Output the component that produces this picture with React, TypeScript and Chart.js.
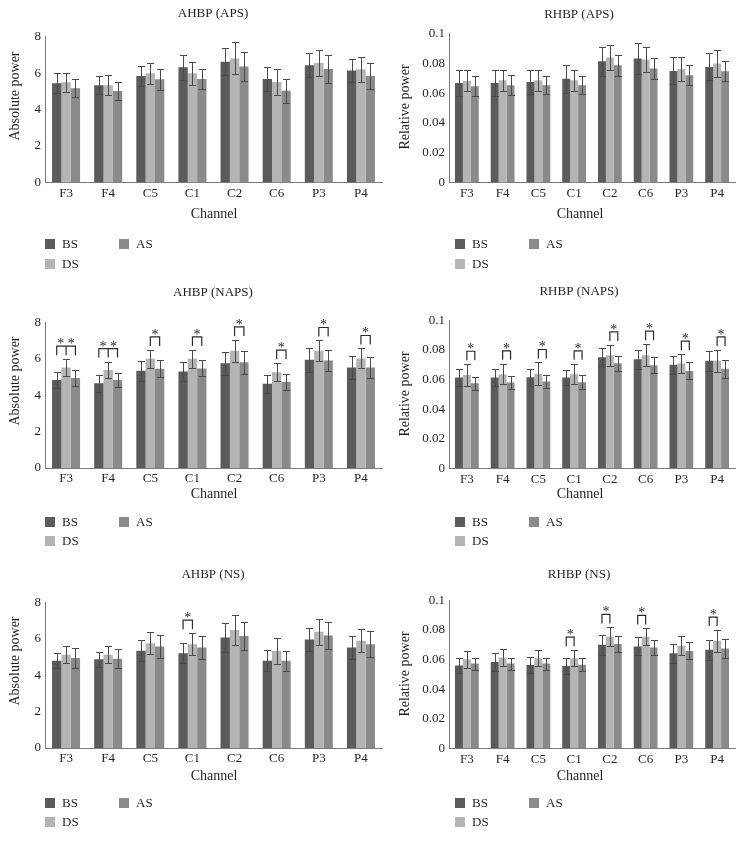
import React, { useEffect, useRef } from 'react';
import { Chart, registerables } from 'chart.js';

Chart.register(...registerables);

const FONT_FAMILY = '"Liberation Serif", "Times New Roman", Times, serif';
const TEXT_COLOR = '#231f20';
const AXIS_COLOR = '#7a7a7a';
const ERR_COLOR = '#4a4a4a';
const X_AXIS_H = 22;

const channels = ['F3', 'F4', 'C5', 'C1', 'C2', 'C6', 'P3', 'P4'];
const seriesNames = ['BS', 'DS', 'AS'];
const seriesColors = ['#5b5b5b', '#b4b4b4', '#8a8a8a'];

// AHBP (APS)
const ahbpApsBS = [5.44, 5.33, 5.84, 6.32, 6.63, 5.68, 6.43, 6.14];
const ahbpApsDS = [5.5, 5.33, 5.99, 5.99, 6.81, 5.52, 6.56, 6.21];
const ahbpApsAS = [5.17, 5.02, 5.66, 5.68, 6.36, 5.04, 6.23, 5.84];
const ahbpApsBSErr = [0.55, 0.5, 0.55, 0.68, 0.73, 0.64, 0.66, 0.62];
const ahbpApsDSErr = [0.53, 0.55, 0.59, 0.62, 0.88, 0.72, 0.69, 0.69];
const ahbpApsASErr = [0.5, 0.5, 0.57, 0.57, 0.8, 0.66, 0.75, 0.7];

// RHBP (APS)
const rhbpApsBS = [0.0668, 0.0668, 0.0675, 0.0697, 0.0814, 0.0832, 0.0749, 0.0776];
const rhbpApsDS = [0.0682, 0.0686, 0.0686, 0.0686, 0.0839, 0.0825, 0.0762, 0.0798];
const rhbpApsAS = [0.0646, 0.0652, 0.0652, 0.0652, 0.0787, 0.0765, 0.072, 0.0747];
const rhbpApsBSErr = [0.0085, 0.0085, 0.0083, 0.0094, 0.0096, 0.0105, 0.009, 0.009];
const rhbpApsDSErr = [0.0071, 0.0072, 0.0072, 0.0072, 0.0083, 0.0085, 0.0081, 0.009];
const rhbpApsASErr = [0.0067, 0.0068, 0.006, 0.006, 0.0072, 0.0071, 0.0067, 0.0069];

// AHBP (NAPS)
const ahbpNapsBS = [4.85, 4.67, 5.35, 5.31, 5.77, 4.64, 5.96, 5.53];
const ahbpNapsDS = [5.53, 5.4, 6.01, 6.01, 6.45, 5.27, 6.45, 6.03];
const ahbpNapsAS = [4.95, 4.85, 5.46, 5.48, 5.82, 4.73, 5.92, 5.53];
const ahbpNapsBSErr = [0.46, 0.46, 0.55, 0.5, 0.64, 0.5, 0.65, 0.62];
const ahbpNapsDSErr = [0.46, 0.46, 0.49, 0.49, 0.6, 0.5, 0.57, 0.55];
const ahbpNapsASErr = [0.46, 0.4, 0.46, 0.44, 0.63, 0.45, 0.59, 0.59];

// RHBP (NAPS)
const rhbpNapsBS = [0.0614, 0.0614, 0.0616, 0.0614, 0.0752, 0.0738, 0.07, 0.0727];
const rhbpNapsDS = [0.0632, 0.0637, 0.0639, 0.0637, 0.0765, 0.0765, 0.0709, 0.0727];
const rhbpNapsAS = [0.0576, 0.058, 0.0587, 0.0582, 0.0711, 0.0698, 0.0659, 0.0673];
const rhbpNapsBSErr = [0.0056, 0.0056, 0.0057, 0.0052, 0.0061, 0.0063, 0.0063, 0.0068];
const rhbpNapsDSErr = [0.0072, 0.007, 0.0077, 0.007, 0.007, 0.0075, 0.0063, 0.0074];
const rhbpNapsASErr = [0.0045, 0.0045, 0.0045, 0.0048, 0.0052, 0.0054, 0.0057, 0.0061];

// AHBP (NS)
const ahbpNsBS = [4.8, 4.89, 5.35, 5.22, 6.08, 4.81, 5.98, 5.53];
const ahbpNsDS = [5.13, 5.13, 5.77, 5.71, 6.5, 5.35, 6.4, 5.9];
const ahbpNsAS = [4.95, 4.91, 5.59, 5.53, 6.17, 4.81, 6.2, 5.71];
const ahbpNsBSErr = [0.42, 0.42, 0.57, 0.55, 0.79, 0.58, 0.64, 0.64];
const ahbpNsDSErr = [0.46, 0.46, 0.6, 0.61, 0.83, 0.71, 0.73, 0.64];
const ahbpNsASErr = [0.54, 0.53, 0.64, 0.64, 0.79, 0.55, 0.73, 0.72];

// RHBP (NS)
const rhbpNsBS = [0.0561, 0.0584, 0.0564, 0.0557, 0.07, 0.0689, 0.0643, 0.0666];
const rhbpNsDS = [0.0602, 0.0614, 0.0609, 0.0609, 0.0755, 0.0755, 0.0693, 0.0727];
const rhbpNsAS = [0.0573, 0.0573, 0.0573, 0.0566, 0.0705, 0.0682, 0.0659, 0.0675];
const rhbpNsBSErr = [0.0053, 0.0064, 0.0054, 0.0052, 0.0068, 0.0061, 0.0066, 0.0068];
const rhbpNsDSErr = [0.0057, 0.0056, 0.0055, 0.0055, 0.0063, 0.0056, 0.0064, 0.0073];
const rhbpNsASErr = [0.0041, 0.0041, 0.0041, 0.0043, 0.0052, 0.005, 0.0057, 0.0064];

// significance brackets: category index, bars joined (0=BS,1=DS,2=AS), label
const ahbpApsSig: Sig[] = [];
const rhbpApsSig: Sig[] = [];
const ahbpNapsSig: Sig[] = [
  { cat: 0, bars: [0, 1, 2], label: '* *' },
  { cat: 1, bars: [0, 1, 2], label: '* *' },
  { cat: 2, bars: [1, 2], label: '*' },
  { cat: 3, bars: [1, 2], label: '*' },
  { cat: 4, bars: [1, 2], label: '*' },
  { cat: 5, bars: [1, 2], label: '*' },
  { cat: 6, bars: [1, 2], label: '*' },
  { cat: 7, bars: [1, 2], label: '*' },
];
const rhbpNapsSig: Sig[] = [
  { cat: 0, bars: [1, 2], label: '*' },
  { cat: 1, bars: [1, 2], label: '*' },
  { cat: 2, bars: [1, 2], label: '*' },
  { cat: 3, bars: [1, 2], label: '*' },
  { cat: 4, bars: [1, 2], label: '*' },
  { cat: 5, bars: [1, 2], label: '*' },
  { cat: 6, bars: [1, 2], label: '*' },
  { cat: 7, bars: [1, 2], label: '*' },
];
const ahbpNsSig: Sig[] = [{ cat: 3, bars: [0, 1], label: '*' }];
const rhbpNsSig: Sig[] = [
  { cat: 3, bars: [0, 1], label: '*' },
  { cat: 4, bars: [0, 1], label: '*' },
  { cat: 5, bars: [0, 1], label: '*' },
  { cat: 7, bars: [0, 1], label: '*' },
];

type Sig = { cat: number; bars: number[]; label: string };
type Box = { x: number; y: number; w: number; h: number };
type Area = { left: number; right: number; top: number; bottom: number };
type TextPos = {
  titleX: number; titleY: number; xTitleX: number; xTitleY: number;
  yTitleX: number; yTitleY: number;
  legX: number; legX2: number; legY1: number; legY2: number;
};
type PanelProps = {
  title: string; yTitle: string;
  values: number[][]; errors: number[][]; sig: Sig[];
  yMax: number; yStep: number;
  box: Box; area: Area; text: TextPos;
};

const fmt = (v: number) => String(Math.round(Number(v) * 1000) / 1000);

function Panel(p: PanelProps) {
  const ref = useRef<HTMLCanvasElement>(null);
  useEffect(() => {
    const canvas = ref.current!;
    const { box, area, text } = p;
    const font = (size: number) => `${size}px ${FONT_FAMILY}`;
    const extras = {
      id: 'panelExtras',
      afterDatasetsDraw(chart: any) {
        const ctx = chart.ctx as CanvasRenderingContext2D;
        const ys = chart.scales.y;
        ctx.save();
        // error bars
        ctx.strokeStyle = ERR_COLOR;
        ctx.lineWidth = 1;
        chart.data.datasets.forEach((ds: any, di: number) => {
          const meta = chart.getDatasetMeta(di);
          meta.data.forEach((bar: any, i: number) => {
            const v = ds.data[i];
            const e = p.errors[di][i];
            const yt = Math.round(ys.getPixelForValue(v + e)) + 0.5;
            const yb = Math.round(ys.getPixelForValue(v - e)) + 0.5;
            const x = Math.round(bar.x) + 0.5;
            ctx.beginPath();
            ctx.moveTo(x, yt); ctx.lineTo(x, yb);
            ctx.moveTo(x - 3.5, yt); ctx.lineTo(x + 3.5, yt);
            ctx.moveTo(x - 3.5, yb); ctx.lineTo(x + 3.5, yb);
            ctx.stroke();
          });
        });
        // significance brackets
        ctx.strokeStyle = '#2b2b2b';
        ctx.lineWidth = 1.2;
        ctx.fillStyle = TEXT_COLOR;
        ctx.font = font(14);
        ctx.textAlign = 'center';
        ctx.textBaseline = 'alphabetic';
        p.sig.forEach((s) => {
          const xs = s.bars.map((b) => chart.getDatasetMeta(b).data[s.cat].x);
          const capTop = Math.min(
            ...s.bars.map((b) => ys.getPixelForValue(p.values[b][s.cat] + p.errors[b][s.cat]))
          );
          const legBottom = capTop - 4;
          const top = legBottom - 9;
          ctx.beginPath();
          ctx.moveTo(xs[0], legBottom);
          ctx.lineTo(xs[0], top);
          ctx.lineTo(xs[xs.length - 1], top);
          ctx.lineTo(xs[xs.length - 1], legBottom);
          for (let k = 1; k < xs.length - 1; k++) {
            ctx.moveTo(xs[k], top);
            ctx.lineTo(xs[k], legBottom);
          }
          ctx.stroke();
          ctx.fillText(s.label, (xs[0] + xs[xs.length - 1]) / 2, top + 2);
        });
        ctx.restore();
      },
      afterDraw(chart: any) {
        const ctx = chart.ctx as CanvasRenderingContext2D;
        ctx.save();
        ctx.fillStyle = TEXT_COLOR;
        ctx.textBaseline = 'middle';
        ctx.textAlign = 'center';
        ctx.font = font(13);
        ctx.fillText(p.title, text.titleX - box.x, text.titleY - box.y);
        ctx.font = font(14);
        ctx.fillText('Channel', text.xTitleX - box.x, text.xTitleY - box.y);
        ctx.save();
        ctx.translate(text.yTitleX - box.x, text.yTitleY - box.y);
        ctx.rotate(-Math.PI / 2);
        ctx.fillText(p.yTitle, 0, 0);
        ctx.restore();
        // legend (column-major: BS, DS / AS)
        const slots = [
          [text.legX, text.legY1],
          [text.legX, text.legY2],
          [text.legX2, text.legY1],
        ];
        ctx.font = font(13);
        ctx.textAlign = 'left';
        seriesNames.forEach((name, i) => {
          const [lx, ly] = slots[i];
          ctx.fillStyle = seriesColors[i];
          ctx.fillRect(lx - box.x, ly - box.y - 5, 10, 10);
          ctx.fillStyle = TEXT_COLOR;
          ctx.fillText(name, lx - box.x + 17, ly - box.y + 1);
        });
        ctx.restore();
      },
    };

    const chart = new Chart(canvas, {
      type: 'bar',
      data: {
        labels: channels,
        datasets: p.values.map((d, i) => ({
          label: seriesNames[i],
          data: d,
          backgroundColor: seriesColors[i],
          borderWidth: 0,
          categoryPercentage: 0.665,
          barPercentage: 1,
        })),
      },
      options: {
        animation: false,
        responsive: false,
        maintainAspectRatio: false,
        events: [],
        layout: {
          padding: {
            left: 0,
            top: area.top - box.y,
            right: box.x + box.w - area.right,
            bottom: box.y + box.h - area.bottom - X_AXIS_H,
          },
        },
        plugins: {
          legend: { display: false },
          title: { display: false },
          tooltip: { enabled: false },
        },
        scales: {
          x: {
            grid: { display: false, drawTicks: false },
            border: { display: true, color: AXIS_COLOR, width: 1 },
            ticks: { color: TEXT_COLOR, font: { family: FONT_FAMILY, size: 13 }, padding: 3, maxRotation: 0 },
            afterFit: (s: any) => { s.height = X_AXIS_H; },
          },
          y: {
            min: 0,
            max: p.yMax,
            grid: { display: false, drawTicks: false },
            border: { display: true, color: AXIS_COLOR, width: 1 },
            ticks: {
              stepSize: p.yStep,
              color: TEXT_COLOR,
              font: { family: FONT_FAMILY, size: 13 },
              padding: 4,
              callback: (v: any) => fmt(v),
            },
            afterFit: (s: any) => { s.width = area.left - box.x; },
          },
        },
      },
      plugins: [extras],
    } as any);
    return () => chart.destroy();
  }, []);
  return (
    <canvas
      ref={ref}
      width={p.box.w}
      height={p.box.h}
      style={{ position: 'absolute', left: p.box.x, top: p.box.y, width: p.box.w, height: p.box.h }}
    />
  );
}

const LEFT_X = 0, LEFT_W = 392, RIGHT_X = 392, RIGHT_W = 352;

function leftText(titleY: number, xTitleY: number, yTitleY: number, legY1: number, legY2: number): TextPos {
  return { titleX: 213, titleY, xTitleX: 214, xTitleY, yTitleX: 15, yTitleY, legX: 45, legX2: 119, legY1, legY2 };
}
function rightText(titleY: number, xTitleY: number, yTitleY: number, legY1: number, legY2: number): TextPos {
  return { titleX: 579, titleY, xTitleX: 580, xTitleY, yTitleX: 405, yTitleY, legX: 455, legX2: 529, legY1, legY2 };
}

export default function App() {
  return (
    <div style={{ position: 'absolute', left: 0, top: 0, width: 744, height: 843, background: '#fff', overflow: 'hidden' }}>
      <Panel
        title="AHBP (APS)" yTitle="Absolute power"
        values={[ahbpApsBS, ahbpApsDS, ahbpApsAS]} errors={[ahbpApsBSErr, ahbpApsDSErr, ahbpApsASErr]}
        sig={ahbpApsSig} yMax={8} yStep={2}
        box={{ x: LEFT_X, y: 0, w: LEFT_W, h: 280 }}
        area={{ left: 45, right: 382, top: 36.7, bottom: 182.5 }}
        text={leftText(14, 214, 96, 244, 264)}
      />
      <Panel
        title="RHBP (APS)" yTitle="Relative power"
        values={[rhbpApsBS, rhbpApsDS, rhbpApsAS]} errors={[rhbpApsBSErr, rhbpApsDSErr, rhbpApsASErr]}
        sig={rhbpApsSig} yMax={0.1} yStep={0.02}
        box={{ x: RIGHT_X, y: 0, w: RIGHT_W, h: 280 }}
        area={{ left: 449, right: 735, top: 33.5, bottom: 182.5 }}
        text={rightText(15, 214, 107, 244, 264)}
      />
      <Panel
        title="AHBP (NAPS)" yTitle="Absolute power"
        values={[ahbpNapsBS, ahbpNapsDS, ahbpNapsAS]} errors={[ahbpNapsBSErr, ahbpNapsDSErr, ahbpNapsASErr]}
        sig={ahbpNapsSig} yMax={8} yStep={2}
        box={{ x: LEFT_X, y: 280, w: LEFT_W, h: 280 }}
        area={{ left: 45, right: 382, top: 322.7, bottom: 468 }}
        text={leftText(293, 494, 381, 522, 541)}
      />
      <Panel
        title="RHBP (NAPS)" yTitle="Relative power"
        values={[rhbpNapsBS, rhbpNapsDS, rhbpNapsAS]} errors={[rhbpNapsBSErr, rhbpNapsDSErr, rhbpNapsASErr]}
        sig={rhbpNapsSig} yMax={0.1} yStep={0.02}
        box={{ x: RIGHT_X, y: 280, w: RIGHT_W, h: 280 }}
        area={{ left: 449, right: 735, top: 320.5, bottom: 468.3 }}
        text={rightText(292, 494, 394, 522, 541)}
      />
      <Panel
        title="AHBP (NS)" yTitle="Absolute power"
        values={[ahbpNsBS, ahbpNsDS, ahbpNsAS]} errors={[ahbpNsBSErr, ahbpNsDSErr, ahbpNsASErr]}
        sig={ahbpNsSig} yMax={8} yStep={2}
        box={{ x: LEFT_X, y: 560, w: LEFT_W, h: 283 }}
        area={{ left: 45, right: 382, top: 602.7, bottom: 748 }}
        text={leftText(575, 776, 661, 803, 822)}
      />
      <Panel
        title="RHBP (NS)" yTitle="Relative power"
        values={[rhbpNsBS, rhbpNsDS, rhbpNsAS]} errors={[rhbpNsBSErr, rhbpNsDSErr, rhbpNsASErr]}
        sig={rhbpNsSig} yMax={0.1} yStep={0.02}
        box={{ x: RIGHT_X, y: 560, w: RIGHT_W, h: 283 }}
        area={{ left: 449, right: 735, top: 600.5, bottom: 748.3 }}
        text={rightText(575, 776, 674, 803, 822)}
      />
    </div>
  );
}
